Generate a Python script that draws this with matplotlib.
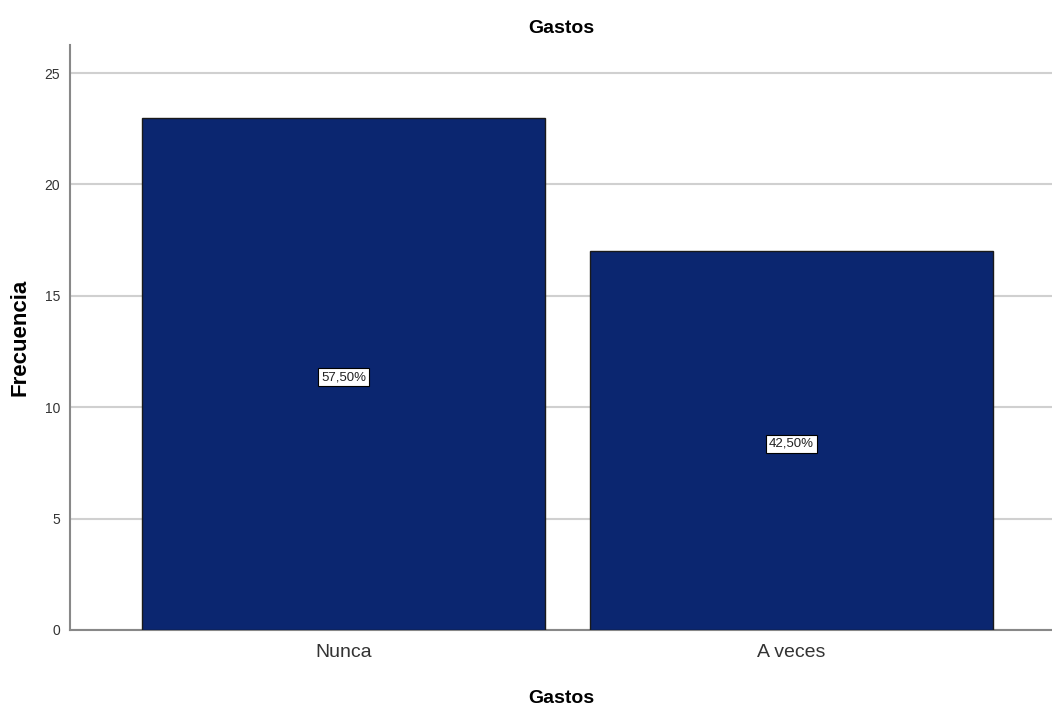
import matplotlib.pyplot as plt

categories = ['Nunca', 'A veces']
counts = [23, 17]
pct_labels = ['57,50%', '42,50%']

plt.rcParams['font.family'] = ['Liberation Sans Narrow', 'Liberation Sans', 'DejaVu Sans']

fig = plt.figure(figsize=(10.52, 7.11), dpi=100)
ax = fig.add_axes([0.0665, 0.114, 0.9335, 0.8227])

x = range(len(categories))
ax.bar(x, counts, width=0.9, color='#0b2670', edgecolor='#1a1a1a', linewidth=1, zorder=3)

# percentage labels in the middle of each bar
for i, (c, lab) in enumerate(zip(counts, pct_labels)):
    ax.text(i, c / 2 - 0.15, lab, ha='center', va='center', fontsize=9.5, color='#222222', zorder=4,
            bbox=dict(boxstyle='square,pad=0.25', facecolor='white', edgecolor='black', linewidth=0.8))

ax.set_xlim(-0.6105, 1.5815)
ax.set_ylim(0, 26.26)
ax.set_yticks([0, 5, 10, 15, 20, 25])
ax.set_xticks(list(x))
ax.set_xticklabels(categories, fontsize=14, color='#333333')
ax.tick_params(axis='y', length=0, labelsize=10, labelcolor='#333333', pad=7)
ax.tick_params(axis='x', length=0, pad=10)

ax.grid(axis='y', color='#d0d0d0', linewidth=1.5, zorder=0)
ax.set_axisbelow(True)
for s in ['top', 'right']:
    ax.spines[s].set_visible(False)
ax.spines['left'].set_color('#888888')
ax.spines['bottom'].set_color('#888888')
ax.spines['left'].set_linewidth(1.5)
ax.spines['bottom'].set_linewidth(1.5)

ax.set_title('Gastos', fontsize=14, fontweight='bold', pad=9)
ax.set_ylabel('Frecuencia', fontsize=16, fontweight='bold', labelpad=10)
ax.set_xlabel('Gastos', fontsize=14, fontweight='bold', labelpad=21)

fig.savefig('out.png', dpi=100)
